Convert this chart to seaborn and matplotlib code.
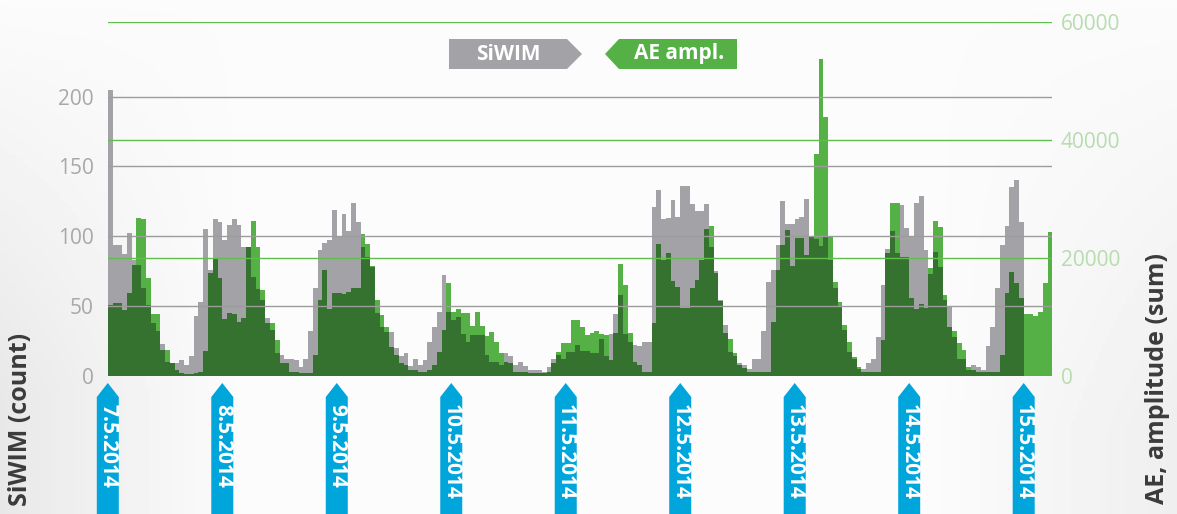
import numpy as np
import pandas as pd
import matplotlib
matplotlib.use('Agg')
import matplotlib.pyplot as plt
import seaborn as sns
from matplotlib.patches import Polygon

# hourly values, 7.5.2014 00:00 onwards
siwim = [205, 94, 94, 87, 102, 83, 79, 63, 51, 38, 32, 23, 10, 9, 9, 11, 8, 14, 43, 53, 105, 76, 112, 110,
         97, 108, 112, 108, 92, 92, 71, 62, 54, 41, 33, 16, 15, 12, 12, 11, 6, 12, 32, 63, 90, 95, 97, 119,
         100, 116, 104, 124, 110, 92, 85, 78, 45, 35, 31, 31, 20, 14, 16, 7, 12, 8, 11, 24, 35, 46, 72, 46,
         40, 42, 30, 24, 29, 29, 29, 15, 10, 10, 8, 16, 14, 8, 10, 7, 4, 4, 4, 3, 6, 12, 15, 12,
         17, 17, 22, 18, 18, 16, 16, 26, 14, 30, 44, 58, 30, 24, 22, 21, 24, 24, 121, 133, 112, 113, 126, 114,
         136, 136, 123, 118, 118, 123, 92, 75, 54, 36, 17, 14, 9, 8, 5, 12, 12, 32, 67, 76, 94, 125, 109, 109,
         112, 114, 127, 100, 98, 93, 100, 83, 63, 49, 33, 17, 12, 5, 5, 9, 12, 28, 65, 91, 104, 88, 122, 106,
         100, 124, 129, 90, 73, 89, 78, 54, 49, 28, 12, 12, 4, 8, 6, 4, 21, 35, 63, 94, 107, 135, 140, 110]

ae_ampl = [12000, 12260, 12260, 11130, 13960, 18760, 26780, 26500, 16500, 10450, 10450, 4350, 4350, 2200, 960, 400, 230, 230, 500, 680, 4240, 17350, 19890, 16500,
           9550, 10680, 10450, 9150, 9720, 21870, 26220, 21870, 14520, 8870, 8870, 6100, 2200, 2200, 680, 680, 500, 500, 500, 3500, 12830, 17900, 11240, 13960,
           13960, 13840, 14130, 14800, 14800, 23960, 22260, 18590, 12830, 10280, 8300, 4920, 3500, 2200, 1800, 960, 960, 680, 680, 960, 1800, 4070, 7740, 15760,
           10850, 11240, 10680, 10680, 8420, 10850, 8420, 6720, 7350, 5760, 3790, 2370, 2200, 680, 680, 680, 500, 500, 500, 500, 680, 2200, 4070, 5590,
           5590, 9440, 9440, 8300, 6890, 7290, 7570, 7010, 6890, 2660, 7180, 18870, 15370, 7180, 2370, 1800, 680, 565, 8870, 22320, 19600, 20740, 16100, 15090,
           11410, 11410, 14920, 16220, 19600, 24970, 25370, 17350, 12710, 7180, 6220, 3790, 1800, 1240, 680, 565, 565, 565, 565, 9150, 17900, 22150, 24690, 18590,
           23390, 23390, 20450, 23560, 37690, 53680, 43900, 23560, 15930, 12540, 8590, 5760, 3220, 1530, 680, 565, 565, 565, 6050, 20740, 29320, 29320, 20170, 20170,
           13220, 11240, 12090, 11410, 18190, 26220, 25260, 13670, 8300, 7570, 5480, 4350, 1530, 960, 680, 565, 565, 565, 565, 3500, 14070, 17520, 15760, 13220,
           10450, 10450, 10110, 10850, 15760, 24410]

dates = ['7.5.2014', '8.5.2014', '9.5.2014', '10.5.2014', '11.5.2014',
         '12.5.2014', '13.5.2014', '14.5.2014', '15.5.2014']
left_ticks = [0, 50, 100, 150, 200]
right_ticks = [0, 20000, 40000, 60000]

GRAY = '#a3a3a7'
GREEN = '#55b146'
DARK = '#36722f'
BLUE = '#00a5dc'

W, H = 1177, 514
YTOP = 253.5          # left axis top, matches 60000 on the right
AE_TOP = 60000
scale = YTOP / AE_TOP

n = len(ae_ampl)
hours = list(range(n))
siwim_full = siwim + [0] * (n - len(siwim))
df = pd.DataFrame({'hour': hours, 'siwim': siwim_full,
                   'ae': np.array(ae_ampl) * scale})
df['both'] = np.minimum(df['siwim'], df['ae'])

sns.set_theme(style='white')
plt.rcParams['font.family'] = ['Open Sans', 'DejaVu Sans']

fig = plt.figure(figsize=(W / 100, H / 100), dpi=100)
fig.patch.set_facecolor('#fbfbfb')

# soft grey background shading
bg = fig.add_axes([0, 0, 1, 1], zorder=-10)
X, Y = np.meshgrid(np.linspace(0, 1, 300), np.linspace(0, 1, 150))
shade = 0.985 - 0.075 * np.clip(1 - X / 0.2, 0, 1) * np.clip(Y * 1.3, 0, 1) \
        - 0.05 * np.clip((X - 0.8) / 0.2, 0, 1) * np.clip(Y * 1.2, 0, 1)
bg.imshow(shade, cmap='gray', vmin=0, vmax=1, aspect='auto', extent=[0, 1, 0, 1], origin='upper')
bg.axis('off')

ax_l, ax_r = 107.8, 1052.3
ax_b, ax_t = 514 - 375.7, 514 - 22
ax = fig.add_axes([ax_l / W, ax_b / H, (ax_r - ax_l) / W, (ax_t - ax_b) / H])
ax.patch.set_alpha(0)

sns.barplot(data=df, x='hour', y='siwim', order=hours, color=GRAY, saturation=1,
            width=1, errorbar=None, linewidth=0, ax=ax)
sns.barplot(data=df, x='hour', y='ae', order=hours, color=GREEN, saturation=1,
            width=1, errorbar=None, linewidth=0, ax=ax)
sns.barplot(data=df, x='hour', y='both', order=hours, color=DARK, saturation=1,
            width=1, errorbar=None, linewidth=0, ax=ax)

xmin, xmax = -0.5, n - 0.5
ax.set_xlim(xmin, xmax)
ax.set_ylim(0, YTOP)

for v in left_ticks[1:]:
    ax.axhline(v, color='#9c9c9c', lw=1, zorder=5)
for v in right_ticks[1:]:
    ax.axhline(v * scale, color='#62bd4f', lw=1, zorder=5)

ax.set_xticks([])
ax.set_xlabel('')
ax.set_ylabel('')
ax.set_yticks(left_ticks)
ax.tick_params(axis='y', length=0, pad=10, labelsize=15, labelcolor='#a8a8a8')
for s in ax.spines.values():
    s.set_visible(False)

ax2 = ax.twinx()
ax2.set_ylim(0, AE_TOP)
ax2.set_yticks(right_ticks)
ax2.set_yticklabels([str(v) for v in right_ticks])
ax2.tick_params(axis='y', length=0, pad=6, labelsize=15, labelcolor='#b7dcae')
for s in ax2.spines.values():
    s.set_visible(False)

# axis titles
fig.text(21 / W, 1 - 419 / H, 'SiWIM (count)', rotation=90, ha='center', va='center',
         weight='bold', size=18, color='#3b3b3b')
fig.text(1158 / W, 1 - 379 / H, 'AE, amplitude (sum)', rotation=90, ha='center', va='center',
         weight='bold', size=18, color='#3b3b3b')

# legend tags
def tag(pts, color):
    fig.add_artist(Polygon([(x / W, 1 - y / H) for x, y in pts], closed=True,
                           transform=fig.transFigure, facecolor=color, edgecolor='none'))

tag([(449, 39), (567, 39), (582, 54), (567, 69), (449, 69)], GRAY)
tag([(605, 54), (619, 39), (737, 39), (737, 69), (619, 69)], GREEN)
fig.text(508 / W, 1 - 54 / H, 'SiWIM', ha='center', va='center', weight='bold', size=15, color='white')
fig.text(679 / W, 1 - 54 / H, 'AE ampl.', ha='center', va='center', weight='bold', size=15, color='white')

# date markers at midnight of each day
for i, d in enumerate(dates):
    xd = -0.5 + 24 * i
    cx = ax_l + (xd - xmin) / (xmax - xmin) * (ax_r - ax_l)
    tag([(cx - 11, 520), (cx - 11, 397), (cx, 383), (cx + 11, 397), (cx + 11, 520)], BLUE)
    fig.text(cx / W, 1 - 404 / H, d, rotation=-90, ha='center', va='top',
             weight='bold', size=15, color='white')

fig.savefig('out.png', dpi=100, facecolor=fig.get_facecolor())
